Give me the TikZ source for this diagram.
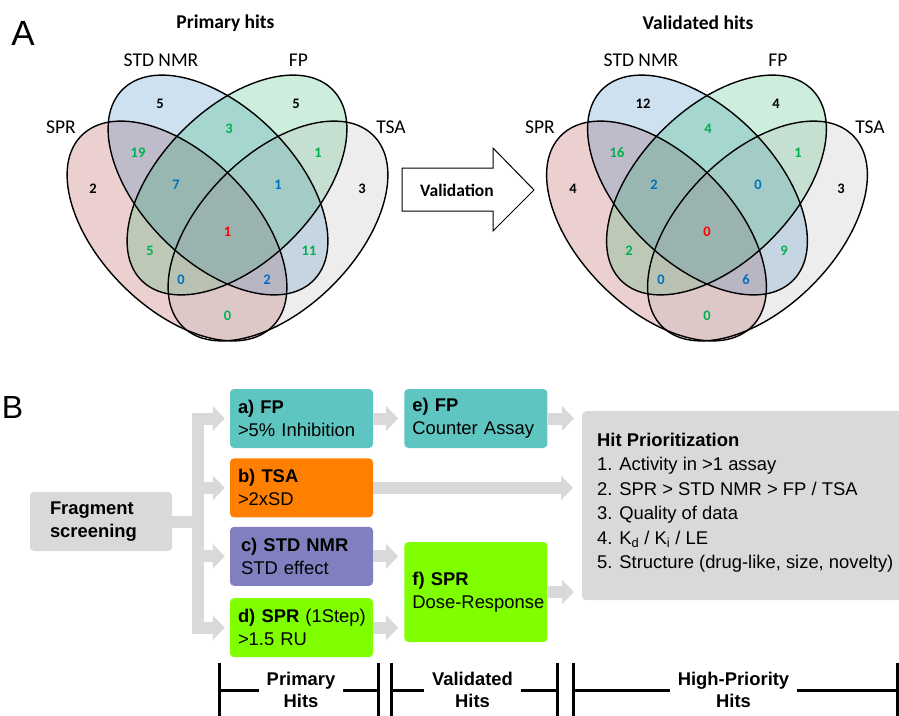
\documentclass[tikz,border=0pt]{standalone}
\usepackage{fontspec}
\setmainfont{Liberation Sans}
\newfontfamily\vennfont{Carlito}
\usetikzlibrary{positioning,arrows.meta,calc}

\definecolor{sprfill}{RGB}{160,20,20}
\definecolor{nmrfill}{RGB}{5,105,180}
\definecolor{fpfill}{RGB}{5,170,80}
\definecolor{tsafill}{RGB}{165,165,165}
\definecolor{numgreen}{RGB}{0,176,80}
\definecolor{numblue}{RGB}{0,112,192}
\definecolor{fpteal}{RGB}{95,197,192}
\definecolor{tsaorange}{RGB}{255,128,0}
\definecolor{nmrpurple}{RGB}{128,128,192}
\definecolor{sprgreen}{RGB}{128,255,0}
\definecolor{boxgray}{RGB}{217,217,217}

\tikzset{
  vlabel/.style={font=\vennfont\fontsize{19.5}{22}\selectfont},
  vtitle/.style={font=\vennfont\bfseries\fontsize{19.5}{22}\selectfont},
  num/.style={font=\vennfont\bfseries\fontsize{14.5}{16}\selectfont},
  assay/.style={rounded corners=4pt, minimum width=143pt, minimum height=59pt,
    text width=127pt, inner xsep=8pt, align=left,
    font=\fontsize{18.4}{23}\selectfont},
  gline/.style={draw=boxgray, line width=12pt},
  garrow/.style={gline, -{Triangle[length=12pt,width=24pt]}},
  bar/.style={line width=3pt},
  hits/.style={font=\bfseries\fontsize{18.4}{22}\selectfont, align=center, inner xsep=8pt},
}

\begin{document}
\begin{tikzpicture}[x=1pt,y=-1pt]
  \clip (0,0) rectangle (899,715);

  % panel A: the two Venn diagrams
  \foreach \cx in {227.5,707} {
    \foreach \dx/\dy/\ang/\col in {-50.5/231/-45/sprfill,-9.5/185/-45/nmrfill,9.5/185/45/fpfill,50.5/231/45/tsafill}
      \fill[\col, fill opacity=.2, rotate around={\ang:(\cx+\dx,\dy)}] (\cx+\dx,\dy) ellipse [x radius=135pt, y radius=77pt];
    \foreach \dx/\dy/\ang in {-50.5/231/-45,-9.5/185/-45,9.5/185/45,50.5/231/45}
      \draw[line width=1.4pt, rotate around={\ang:(\cx+\dx,\dy)}] (\cx+\dx,\dy) ellipse [x radius=135pt, y radius=77pt];
  }

  \node[font=\fontsize{35}{35}\selectfont] (lblA) at (23,33) {A};
  \node[vtitle] (prim) at (225.5,23) {Primary hits};
  \node[vtitle] (valid) at (698,23) {Validated hits};
  \node[vlabel] (nmr1) at (161,60) {STD NMR};
  \node[vlabel] (fp1) at (298.5,60) {FP};
  \node[vlabel] (spr1) at (61,127) {SPR};
  \node[vlabel] (tsa1) at (391,127) {TSA};
  \node[vlabel] (nmr2) at (641,60) {STD NMR};
  \node[vlabel] (fp2) at (778,60) {FP};
  \node[vlabel] (spr2) at (540,127) {SPR};
  \node[vlabel] (tsa2) at (870,127) {TSA};

  \foreach \x/\y/\t/\c [count=\i] in {160/104/5/black,296/104/5/black,229/129/3/numgreen,138/153/19/numgreen,
      318/153/1/numgreen,93/189/2/black,362/189/3/black,176/185/7/numblue,278/185/1/numblue,
      227.5/232/1/red,150/251/5/numgreen,309/251/11/numgreen,181/280/0/numblue,267/280/2/numblue,227.5/316/0/numgreen}
    \node[num, text=\c] (pn\i) at (\x,\y) {\t};
  \foreach \x/\y/\t/\c [count=\i] in {643/104/12/black,776/104/4/black,708/129/4/numgreen,617/153/16/numgreen,
      798/153/1/numgreen,573/189/4/black,841/189/3/black,654/185/2/numblue,758/185/0/numblue,
      707/232/0/red,629/251/2/numgreen,784/251/9/numgreen,661/280/0/numblue,746/280/6/numblue,707/316/0/numgreen}
    \node[num, text=\c] (vn\i) at (\x,\y) {\t};

  % validation arrow
  \draw[fill=white, line width=1pt] (402,168) -- (493,168) -- (493,148) -- (534,190)
    -- (493,231) -- (493,211) -- (402,211) -- cycle;
  \node[font=\vennfont\bfseries\fontsize{17.5}{20}\selectfont] (valtxt) at (457,190) {Validation};

  % panel B: screening workflow
  \node[font=\fontsize{32}{32}\selectfont] (lblB) at (12.5,407) {B};
  \node[assay, fill=boxgray, minimum width=142pt, text width=102pt, inner xsep=20pt, font=\bfseries\fontsize{18.4}{23}\selectfont] (frag) at (101,521.5) {Fragment\\screening};
  \node[assay, fill=fpteal] (fpA) at (301.5,418.5) {\textbf{a) FP}\\>5\% Inhibition};
  \node[assay, fill=tsaorange, below=10pt of fpA] (tsaB) {\textbf{b) TSA}\\>2xSD};
  \node[assay, fill=nmrpurple, below=9pt of tsaB] (nmrC) {\hspace*{3pt}\textbf{c) STD NMR}\\\hspace*{3pt}STD effect};
  \node[assay, fill=sprgreen, below=12pt of nmrC] (sprD) {\mbox{\textbf{d) SPR} (1Step)}\\>1.5 RU};
  \node[assay, fill=fpteal, right=31pt of fpA] (fpE) {\textbf{e) FP}\\Counter Assay};
  \node[assay, fill=sprgreen, minimum height=100pt, anchor=west] (sprF) at ($(nmrC.east)!.5!(sprD.east)+(31,0)$) {\textbf{f) SPR}\\\mbox{Dose-Response}};
  \node[fill=boxgray, rounded corners=4pt, minimum width=330pt, minimum height=189pt, anchor=north west] (hit) at (582,411) {};
  \node[anchor=north west, align=left, inner sep=0pt, font=\fontsize{18.4}{24.4}\selectfont] (hitlist) at (597,433)
    {\textbf{Hit Prioritization}\\1. Activity in >1 assay\\2. SPR > STD NMR > FP / TSA\\3. Quality of data\\
     4. K\textsubscript{d} / K\textsubscript{i} / LE\\5. Structure (drug-like, size, novelty)};

  \coordinate (fork) at (197.5,521.5);
  \draw[gline] (frag.east) -- (fork);
  \foreach \b in {fpA,tsaB,nmrC,sprD}
    \draw[garrow, shorten >=5pt] (fork) |- (\b.west);
  \draw[garrow, shorten >=6pt] (fpA.east) -- (fpE.west);
  \draw[garrow, shorten >=6pt] (nmrC.east) -- (nmrC.east -| sprF.west);
  \draw[garrow, shorten >=6pt] (sprD.east) -- (sprD.east -| sprF.west);
  \draw[garrow, shorten >=9pt] (tsaB.east) -- (tsaB.east -| hit.west);
  \draw[garrow, shorten >=8pt] (fpE.east) -- (fpE.east -| hit.west);
  \draw[garrow, shorten >=8pt] (sprF.east) -- (sprF.east -| hit.west);

  % stage brackets
  \node[hits] (hPrim) at (301,690) {Primary\\Hits};
  \node[hits] (hVal) at (472.5,690) {Validated\\Hits};
  \node[hits] (hHigh) at (733.5,690) {High-Priority\\Hits};
  \foreach \x in {219,378,391,557,573,897.5}
    \draw[bar] (\x,663) -- (\x,716);
  \draw[bar] (219,690) -- (hPrim.west);
  \draw[bar] (hPrim.east) -- (378,690);
  \draw[bar] (391,690) -- (hVal.west);
  \draw[bar] (hVal.east) -- (557,690);
  \draw[bar] (573,690) -- (hHigh.west);
  \draw[bar] (hHigh.east) -- (897.5,690);
\end{tikzpicture}
\end{document}
